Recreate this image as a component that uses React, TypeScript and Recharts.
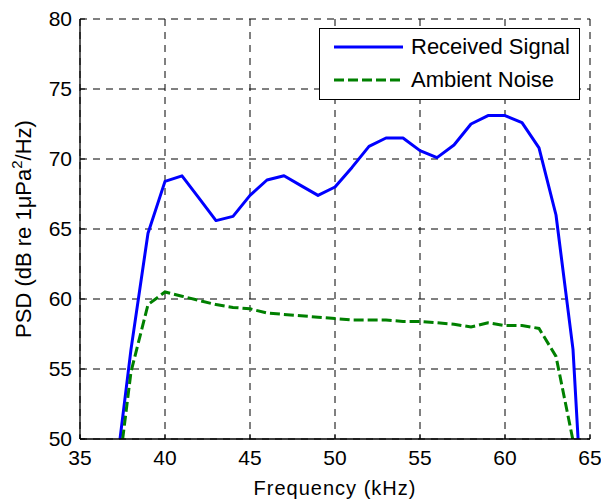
import React from 'react';
import { LineChart, Line, XAxis, YAxis, CartesianGrid, Legend, Label } from 'recharts';

const frequencies = [37, 38, 39, 40, 41, 42, 43, 44, 45, 46, 47, 48, 49, 50, 51, 52, 53, 54, 55, 56, 57, 58, 59, 60, 61, 62, 63, 64, 65];
const receivedSignal = [46.5, 56.4, 64.7, 68.4, 68.8, 67.2, 65.6, 65.9, 67.4, 68.5, 68.8, 68.1, 67.4, 68.0, 69.4, 70.9, 71.5, 71.5, 70.6, 70.1, 71.0, 72.5, 73.1, 73.1, 72.6, 70.8, 66.0, 56.4, 35];
const ambientNoise = [45, 54.8, 59.6, 60.5, 60.2, 59.9, 59.6, 59.4, 59.3, 59.0, 58.9, 58.8, 58.7, 58.6, 58.5, 58.5, 58.5, 58.4, 58.4, 58.3, 58.2, 58.0, 58.3, 58.1, 58.1, 57.9, 55.9, 49.9, 40];
const xTicks = [35, 40, 45, 50, 55, 60, 65];
const yTicks = [50, 55, 60, 65, 70, 75, 80];
const seriesNames = ['Received Signal', 'Ambient Noise'];

const data = frequencies.map((f, i) => ({ f, signal: receivedSignal[i], noise: ambientNoise[i] }));

const FONT = '"Liberation Sans", Arial, Helvetica, sans-serif';

const YLabel = (props: any) => {
  const vb = props.viewBox || {};
  const cx = vb.x + 31;
  const cy = vb.y + vb.height / 2;
  return (
    <text x={cx} y={cy} transform={`rotate(-90, ${cx}, ${cy})`} textAnchor="middle" fontFamily={FONT} fontSize={22} fill="#000">
      PSD (dB re 1μPa<tspan dy={-9} fontSize={15}>2</tspan><tspan dy={9}>/Hz)</tspan>
    </text>
  );
};

const LegendBox = (props: any) => {
  const payload = [...(props.payload || [])].sort(
    (a: any, b: any) => seriesNames.indexOf(a.value) - seriesNames.indexOf(b.value)
  );
  return (
    <div style={{ width: 261, height: 72, boxSizing: 'border-box', border: '1.5px solid #000', background: '#fff', position: 'relative', fontFamily: FONT, fontSize: 22, color: '#000' }}>
      {payload.map((p: any, i: number) => (
        <div key={i} style={{ position: 'absolute', left: 13, top: 18 + i * 33 - 13, height: 26, display: 'flex', alignItems: 'center', whiteSpace: 'nowrap' }}>
          <svg width={70} height={26} style={{ display: 'block' }}>
            <line x1={1} x2={70} y1={13} y2={13} stroke={p.color} strokeWidth={3} strokeDasharray={p.payload && p.payload.strokeDasharray ? '10 4' : undefined} />
          </svg>
          <span style={{ marginLeft: 8, lineHeight: '26px' }}>{p.value}</span>
        </div>
      ))}
    </div>
  );
};

export default function App() {
  return (
    <div style={{ position: 'absolute', left: 0, top: 0, width: 601, height: 502, background: '#fff' }}>
      <LineChart width={601} height={502} data={data} margin={{ top: 19, right: 11, bottom: 0, left: 0 }}>
        <CartesianGrid stroke="#000" strokeDasharray="7 6" strokeWidth={1} />
        <XAxis
          dataKey="f"
          type="number"
          domain={[35, 65]}
          ticks={xTicks}
          allowDataOverflow
          height={63}
          tickSize={-5}
          tickMargin={16}
          axisLine={{ stroke: '#000', strokeWidth: 1.3 }}
          tickLine={{ stroke: '#000' }}
          tick={{ fill: '#000', fontSize: 21, fontFamily: FONT }}
        >
          <Label value="Frequency (kHz)" position="insideBottom" offset={7} style={{ fontFamily: FONT, fontSize: 20, letterSpacing: 1, fill: '#000' }} />
        </XAxis>
        <XAxis
          xAxisId="top"
          orientation="top"
          type="number"
          domain={[35, 65]}
          ticks={xTicks}
          allowDataOverflow
          height={0}
          tickSize={-5}
          tick={false}
          axisLine={{ stroke: '#000', strokeWidth: 1.3 }}
          tickLine={{ stroke: '#000' }}
        />
        <YAxis
          type="number"
          domain={[50, 80]}
          ticks={yTicks}
          allowDataOverflow
          width={80}
          tickSize={-5}
          tickMargin={13}
          axisLine={{ stroke: '#000', strokeWidth: 1.3 }}
          tickLine={{ stroke: '#000' }}
          tick={{ fill: '#000', fontSize: 21, fontFamily: FONT }}
        >
          <Label content={<YLabel />} />
        </YAxis>
        <YAxis
          yAxisId="right"
          orientation="right"
          type="number"
          domain={[50, 80]}
          ticks={yTicks}
          allowDataOverflow
          width={0}
          tickSize={-5}
          tick={false}
          axisLine={{ stroke: '#000', strokeWidth: 1.3 }}
          tickLine={{ stroke: '#000' }}
        />
        <Legend
          layout="horizontal"
          verticalAlign="middle"
          align="center"
          wrapperStyle={{ left: 319, top: 28, width: 261, height: 72 }}
          content={<LegendBox />}
        />
        <Line
          name={seriesNames[0]}
          dataKey="signal"
          type="linear"
          stroke="#0000FF"
          strokeWidth={3}
          dot={false}
          activeDot={false}
          strokeLinejoin="round"
          isAnimationActive={false}
        />
        <Line
          name={seriesNames[1]}
          dataKey="noise"
          type="linear"
          stroke="#008000"
          strokeWidth={3}
          strokeDasharray="10 4"
          dot={false}
          activeDot={false}
          isAnimationActive={false}
        />
      </LineChart>
    </div>
  );
}
